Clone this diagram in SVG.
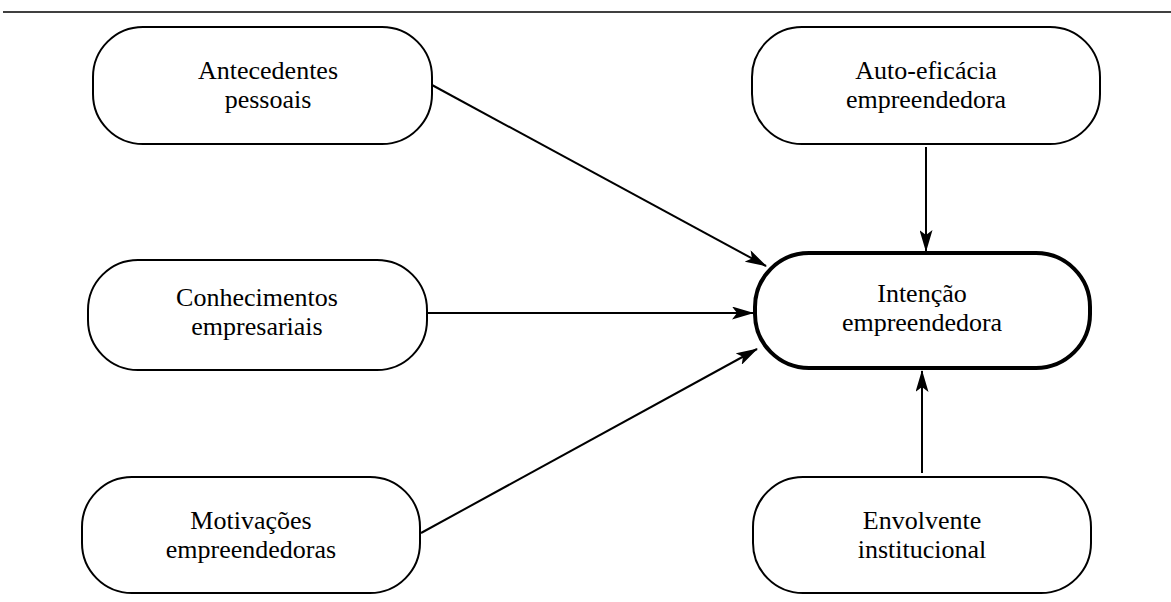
<svg xmlns="http://www.w3.org/2000/svg" width="1171" height="602" viewBox="0 0 1171 602">
<defs>
<marker id="ah" viewBox="0 0 22 13" refX="21" refY="6.5" markerWidth="22" markerHeight="13" markerUnits="userSpaceOnUse" orient="auto">
<path d="M0,0 L22,6.5 L0,13 L5,6.5 Z" fill="#000"/>
</marker>
<style>
.n{fill:#fff;stroke:#000;stroke-width:2}
.m{fill:#fff;stroke:#000;stroke-width:4}
.t{font-size:26px;fill:#000;text-anchor:middle}
.c{stroke:#000;stroke-width:2;fill:none;marker-end:url(#ah)}
</style>
</defs>
<rect width="1171" height="602" fill="#fff"/>
<line x1="3" y1="12" x2="1171" y2="12" stroke="#000" stroke-width="1.5"/>
<g id="connectors">
<line class="c" x1="432" y1="85" x2="766" y2="266"/>
<line class="c" x1="427" y1="313" x2="753" y2="313"/>
<line class="c" x1="421" y1="533" x2="757" y2="349"/>
<line class="c" x1="926" y1="147" x2="926" y2="251"/>
<line class="c" x1="922" y1="473" x2="922" y2="371"/>
</g>
<g font-family="Liberation Serif, DejaVu Serif, serif">
<g id="antecedentes">
<rect class="n" x="93" y="27" width="339" height="117" rx="50"/>
<text class="t" x="268" y="79">Antecedentes</text>
<text class="t" x="268" y="108">pessoais</text>
</g>
<g id="conhecimentos">
<rect class="n" x="88" y="260" width="339" height="110" rx="50"/>
<text class="t" x="257" y="306">Conhecimentos</text>
<text class="t" x="257" y="335">empresariais</text>
</g>
<g id="motivacoes">
<rect class="n" x="82" y="477" width="338" height="116" rx="50"/>
<text class="t" x="251" y="529">Motivações</text>
<text class="t" x="251" y="558">empreendedoras</text>
</g>
<g id="autoeficacia">
<rect class="n" x="752" y="27" width="348" height="117" rx="50"/>
<text class="t" x="926" y="79">Auto-eficácia</text>
<text class="t" x="926" y="108">empreendedora</text>
</g>
<g id="intencao">
<rect class="m" x="755" y="253" width="335" height="115" rx="54"/>
<text class="t" x="922" y="302">Intenção</text>
<text class="t" x="922" y="331">empreendedora</text>
</g>
<g id="envolvente">
<rect class="n" x="753" y="477" width="338" height="116" rx="50"/>
<text class="t" x="922" y="529">Envolvente</text>
<text class="t" x="922" y="558">institucional</text>
</g>
</g>
</svg>
